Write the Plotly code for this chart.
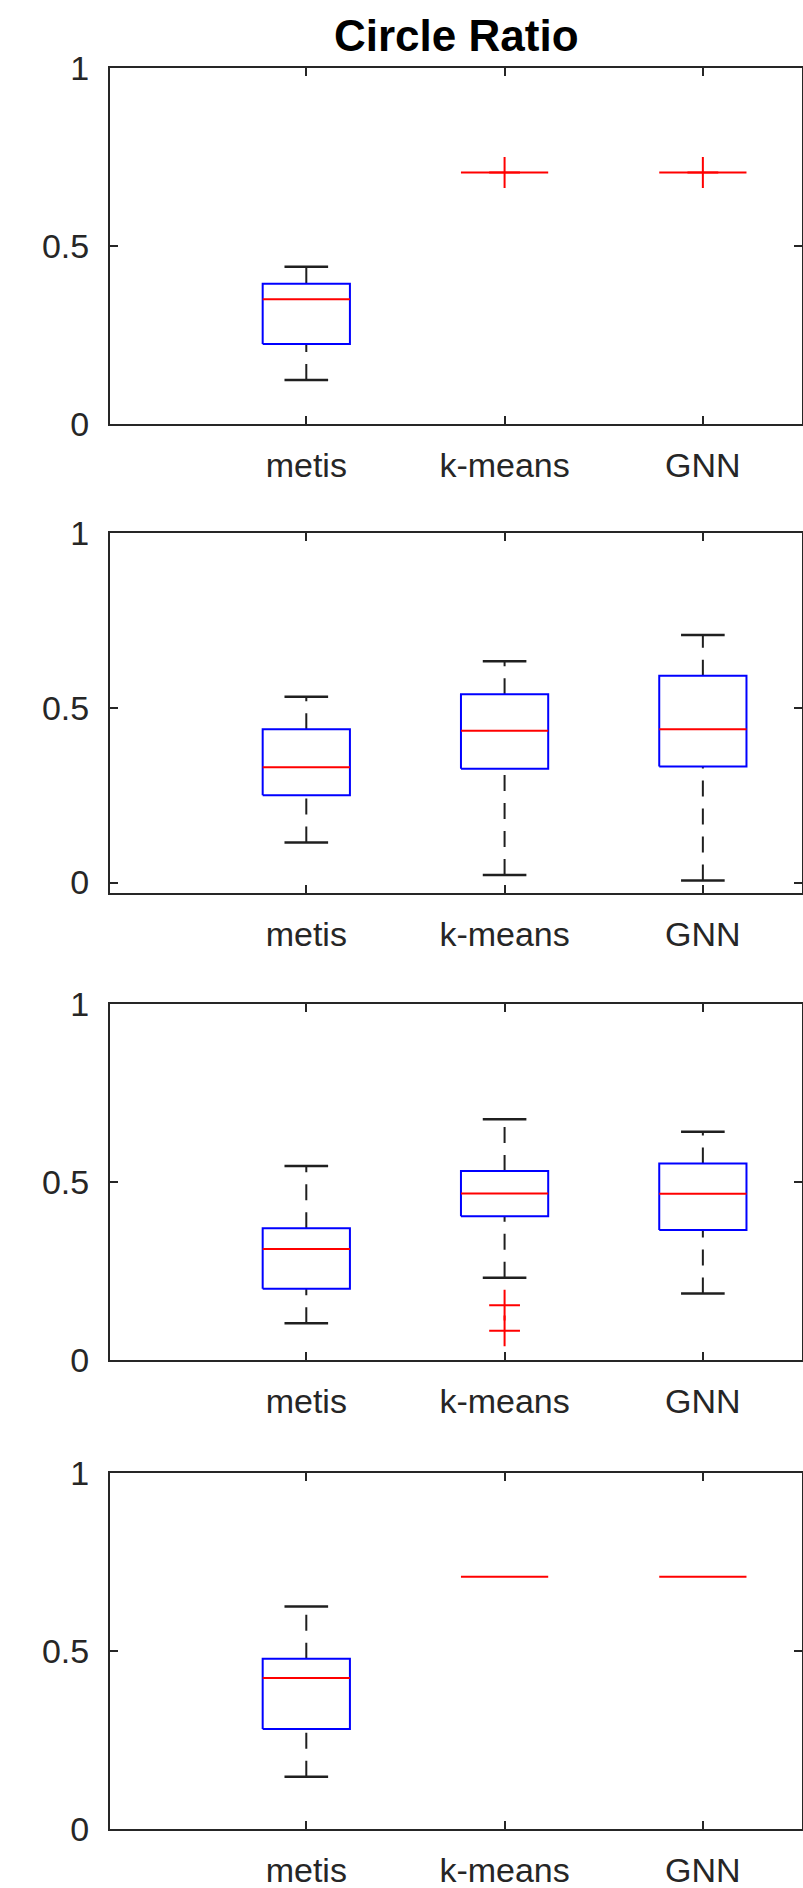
import plotly.graph_objects as go

# ---------------- data ----------------
categories = ["metis", "k-means", "GNN"]
title_text = "Circle Ratio"
y_tick_vals = [0, 0.5, 1]
y_tick_text = ["0", "0.5", "1"]

# panel 1
p1_low = [0.124, 0.707, 0.707]
p1_q1 = [0.225, 0.707, 0.707]
p1_med = [0.351, 0.707, 0.707]
p1_q3 = [0.394, 0.707, 0.707]
p1_high = [0.442, 0.707, 0.707]
p1_outliers = [[], [0.707], [0.707]]

# panel 2
p2_low = [0.115, 0.022, 0.006]
p2_q1 = [0.250, 0.326, 0.332]
p2_med = [0.330, 0.435, 0.439]
p2_q3 = [0.439, 0.539, 0.592]
p2_high = [0.532, 0.634, 0.709]
p2_outliers = [[], [], []]

# panel 3
p3_low = [0.103, 0.231, 0.187]
p3_q1 = [0.200, 0.404, 0.365]
p3_med = [0.312, 0.468, 0.467]
p3_q3 = [0.370, 0.531, 0.552]
p3_high = [0.545, 0.676, 0.641]
p3_outliers = [[], [0.154, 0.082], []]

# panel 4
p4_low = [0.146, 0.708, 0.708]
p4_q1 = [0.280, 0.708, 0.708]
p4_med = [0.424, 0.708, 0.708]
p4_q3 = [0.478, 0.708, 0.708]
p4_high = [0.625, 0.708, 0.708]
p4_outliers = [[], [], []]

panels = [
    (p1_low, p1_q1, p1_med, p1_q3, p1_high, p1_outliers),
    (p2_low, p2_q1, p2_med, p2_q3, p2_high, p2_outliers),
    (p3_low, p3_q1, p3_med, p3_q3, p3_high, p3_outliers),
    (p4_low, p4_q1, p4_med, p4_q3, p4_high, p4_outliers),
]

# ---------------- layout / style ----------------
W, H = 803, 1888
panel_px = [(68.3, 424.0), (533.3, 892.7), (1004.0, 1360.0), (1473.0, 1828.7)]
y_ranges = [[0, 1], [-0.029, 1], [0, 1], [0, 1]]
x_range = [0.01, 3.5]
box_w = 0.44
cap_w = 0.22
AX = "#262626"
FONT = "Liberation Sans, Arial, Helvetica, sans-serif"

fig = go.Figure()

for i, (low, q1, med, q3, high, outl) in enumerate(panels):
    xa = "x" if i == 0 else f"x{i+1}"
    ya = "y" if i == 0 else f"y{i+1}"
    for j, _ in enumerate(categories):
        c = j + 1
        # whiskers (dashed black)
        for a, b in ((q3[j], high[j]), (low[j], q1[j])):
            if b > a:
                fig.add_trace(go.Scatter(
                    x=[c, c], y=[a, b], mode="lines", xaxis=xa, yaxis=ya,
                    line=dict(color="#1f1f1f", width=2, dash="16px,12px"),
                    hoverinfo="skip", showlegend=False))
        # caps
        for v in (low[j], high[j]):
            if v != q1[j] and v != q3[j]:
                fig.add_trace(go.Scatter(
                    x=[c - cap_w / 2, c + cap_w / 2], y=[v, v], mode="lines",
                    xaxis=xa, yaxis=ya,
                    line=dict(color="#1f1f1f", width=2.5),
                    hoverinfo="skip", showlegend=False))
        # box
        if q3[j] > q1[j]:
            fig.add_trace(go.Scatter(
                x=[c - box_w / 2, c + box_w / 2, c + box_w / 2, c - box_w / 2, c - box_w / 2],
                y=[q1[j], q1[j], q3[j], q3[j], q1[j]], mode="lines",
                xaxis=xa, yaxis=ya,
                line=dict(color="#0000FF", width=2),
                hoverinfo="skip", showlegend=False))
        # median
        fig.add_trace(go.Scatter(
            x=[c - box_w / 2, c + box_w / 2], y=[med[j], med[j]], mode="lines",
            xaxis=xa, yaxis=ya,
            line=dict(color="#FF0000", width=2),
            hoverinfo="skip", showlegend=False))
        # outliers
        if outl[j]:
            fig.add_trace(go.Scatter(
                x=[c] * len(outl[j]), y=outl[j], mode="markers",
                xaxis=xa, yaxis=ya,
                marker=dict(symbol="cross-thin", size=22,
                            line=dict(color="#FF0000", width=2)),
                hoverinfo="skip", showlegend=False))

layout = dict(
    template="none",
    width=W, height=H,
    margin=dict(l=110, r=1, t=0, b=0, autoexpand=False),
    paper_bgcolor="white", plot_bgcolor="white",
    showlegend=False,
    font=dict(family=FONT, size=34, color=AX),
)

for i in range(4):
    top, bot = panel_px[i]
    xk = "xaxis" if i == 0 else f"xaxis{i+1}"
    yk = "yaxis" if i == 0 else f"yaxis{i+1}"
    ya = "y" if i == 0 else f"y{i+1}"
    xa = "x" if i == 0 else f"x{i+1}"
    layout[xk] = dict(
        domain=[0, 1], anchor=ya, range=x_range, automargin=False,
        tickmode="array", tickvals=[1, 2, 3], ticktext=categories,
        ticks="inside", ticklen=8, tickwidth=1.5, tickcolor=AX,
        showline=True, linecolor=AX, linewidth=2, mirror="ticks",
        showgrid=False, zeroline=False, fixedrange=True,
        tickfont=dict(family=FONT, size=34, color=AX),
        ticklabelstandoff=10,
    )
    layout[yk] = dict(
        domain=[1 - bot / H, 1 - top / H], anchor=xa, range=y_ranges[i],
        automargin=False,
        tickmode="array", tickvals=y_tick_vals, ticktext=y_tick_text,
        ticks="inside", ticklen=8, tickwidth=1.5, tickcolor=AX,
        showline=True, linecolor=AX, linewidth=2, mirror="ticks",
        showgrid=False, zeroline=False, fixedrange=True,
        tickfont=dict(family=FONT, size=34, color=AX),
        ticklabelstandoff=12,
    )

layout["annotations"] = [dict(
    text="<b>" + title_text + "</b>", xref="paper", yref="paper",
    x=0.5, y=1 - 36 / H, xanchor="center", yanchor="middle",
    showarrow=False, font=dict(family=FONT, size=44, color="black"),
)]

fig.update_layout(**layout)
fig.write_html("out.html")
